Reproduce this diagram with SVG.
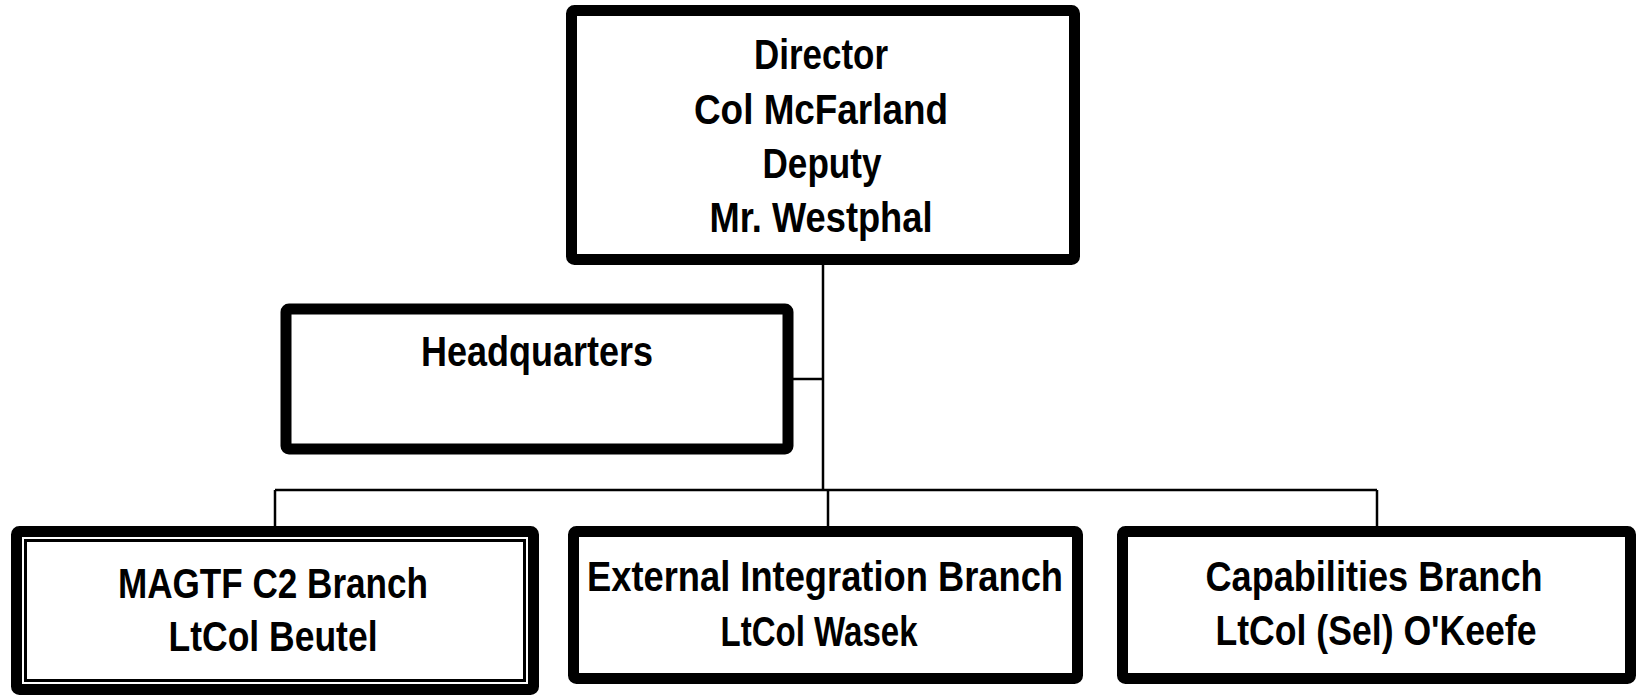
<svg xmlns="http://www.w3.org/2000/svg" width="1638" height="697" viewBox="0 0 1638 697">
<style>
.box{fill:#fff;stroke:#000;stroke-width:11}
.inner{fill:none;stroke:#000;stroke-width:3}
.t{font-family:"Liberation Sans Narrow","Liberation Sans",Arial,sans-serif;font-weight:bold;font-size:42px;fill:#000;text-anchor:middle}
.c{fill:none;stroke:#000;stroke-width:2.5}
</style>
<rect width="1638" height="697" fill="#fff"/>
<g id="connectors">
<path class="c" d="M823 265 V490"/>
<path class="c" d="M793 379 H823"/>
<path class="c" d="M275 490 H1377"/>
<path class="c" d="M275 490 V526"/>
<path class="c" d="M828 490 V526"/>
<path class="c" d="M1377 490 V526"/>
</g>
<g id="director">
<rect class="box" x="571.5" y="10.5" width="503" height="249" rx="3"/>
<text class="t" x="821" y="69" textLength="134" lengthAdjust="spacingAndGlyphs">Director</text>
<text class="t" x="821" y="124" textLength="254" lengthAdjust="spacingAndGlyphs">Col McFarland</text>
<text class="t" x="822" y="178" textLength="119" lengthAdjust="spacingAndGlyphs">Deputy</text>
<text class="t" x="821" y="232" textLength="223" lengthAdjust="spacingAndGlyphs">Mr. Westphal</text>
</g>
<g id="headquarters">
<rect class="box" x="286" y="309" width="502" height="140" rx="3"/>
<text class="t" x="537" y="366" textLength="232" lengthAdjust="spacingAndGlyphs">Headquarters</text>
</g>
<g id="magtf">
<rect class="box" x="16.5" y="531.5" width="517" height="158" rx="3"/>
<rect class="inner" x="25.5" y="540.5" width="499" height="140"/>
<text class="t" x="273" y="598" textLength="310" lengthAdjust="spacingAndGlyphs">MAGTF C2 Branch</text>
<text class="t" x="273" y="651" textLength="209" lengthAdjust="spacingAndGlyphs">LtCol Beutel</text>
</g>
<g id="external">
<rect class="box" x="573.5" y="531.5" width="504" height="147" rx="3"/>
<text class="t" x="825" y="591" textLength="476" lengthAdjust="spacingAndGlyphs">External Integration Branch</text>
<text class="t" x="819" y="646" textLength="197" lengthAdjust="spacingAndGlyphs">LtCol Wasek</text>
</g>
<g id="capabilities">
<rect class="box" x="1122.5" y="531.5" width="508" height="147" rx="3"/>
<text class="t" x="1374" y="591" textLength="337" lengthAdjust="spacingAndGlyphs">Capabilities Branch</text>
<text class="t" x="1376" y="645" textLength="321" lengthAdjust="spacingAndGlyphs">LtCol (Sel) O'Keefe</text>
</g>
</svg>
